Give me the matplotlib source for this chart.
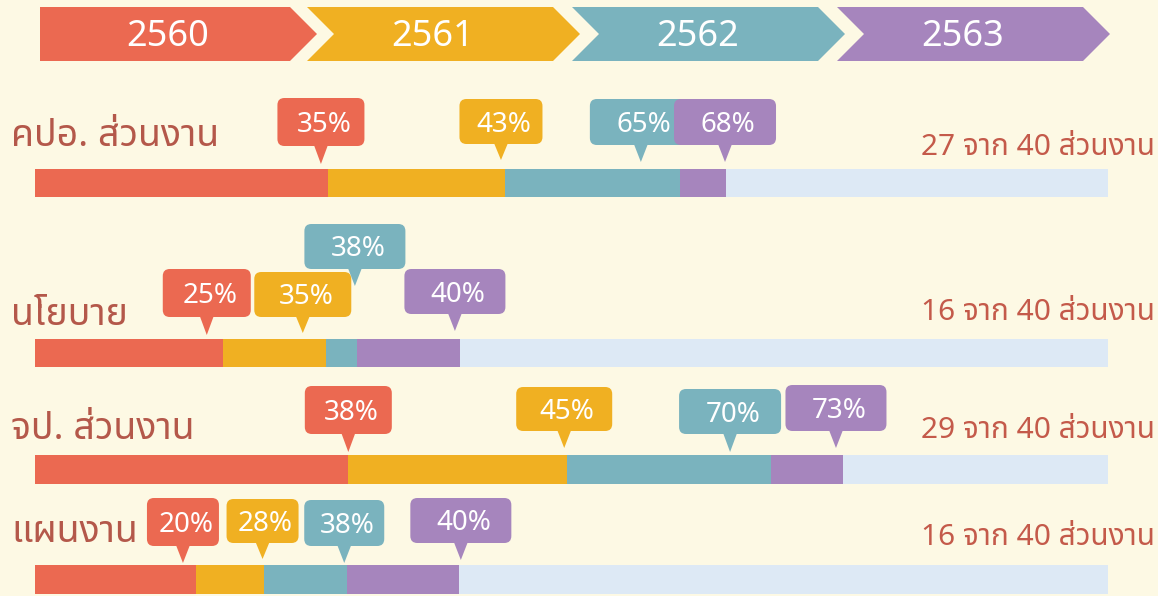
import matplotlib
matplotlib.use("Agg")
import matplotlib.pyplot as plt
from matplotlib.patches import Polygon, FancyBboxPatch

# === Data ===
years = ["2560", "2561", "2562", "2563"]
units = ["คปอ. ส่วนงาน", "นโยบาย", "จป. ส่วนงาน", "แผนงาน"]
pct_labels = [[35, 43, 65, 68],
              [25, 35, 38, 40],
              [38, 45, 70, 73],
              [20, 28, 38, 40]]
# segment ends as drawn (percent of bar length)
bar_ends = [[27.3, 43.8, 60.1, 64.4],
            [17.5, 27.1, 30.0, 39.6],
            [29.2, 49.6, 68.6, 75.3],
            [15.0, 21.3, 29.1, 39.5]]
done = [27, 16, 29, 16]
total = 40

colors = ["#EB6951", "#F0B022", "#7AB3BE", "#A685BD"]
track = "#DDE9F5"
bg = "#FDF9E4"
label_col = "#B4584A"
count_col = "#C45A4A"
plt.rcParams["font.family"] = ["Noto Sans Thai", "Sarabun", "Athiti", "DejaVu Sans"]

# === Layout (pixels) ===
W, H = 1158, 596
bar_x0, bar_x1 = 35, 1108
bar_cy = [183, 353, 469.5, 579.5]
bar_h = 28.5
label_base = [146, 325, 439, 542]
count_base = [155, 320, 438, 545]
# callout: (tip dx from segment end, box width, box top, box bottom, tip y)
callouts = [
    [(-7, 87, 98, 146, 164), (-4, 83, 99, 144, 160), (-39, 102, 99, 145, 162), (-1, 102, 99, 145, 162)],
    [(-16, 88, 269, 317, 335), (-23, 97, 272, 317, 333), (-2, 101, 224, 269, 286), (-5, 101, 269, 314, 331)],
    [(0, 87, 386, 434, 452), (-3, 96, 387, 431, 448), (-41, 102, 389, 434, 452), (-7, 101, 385, 431, 448)],
    [(-13, 72, 498, 546, 563), (-1, 72, 499, 543, 559), (-3, 80, 500, 546, 563), (2, 101, 498, 543, 560)],
]
# callouts drawn on top in this order
draw_order = [[0, 1, 2, 3], [0, 1, 3, 2], [0, 1, 2, 3], [0, 1, 2, 3]]
arrow_left = [40, 307, 572, 837]
arrow_tip = [317, 580, 845, 1110]
arrow_top, arrow_bot = 7, 61

fig = plt.figure(figsize=(W / 100, H / 100), dpi=100, facecolor=bg)
ax = fig.add_axes([0, 0, 1, 1])
ax.set_xlim(0, W)
ax.set_ylim(H, 0)
ax.axis("off")

axb = fig.add_axes([bar_x0 / W, 0, (bar_x1 - bar_x0) / W, 1])
axb.set_xlim(0, 100)
axb.set_ylim(H, 0)
axb.axis("off")
axb.patch.set_alpha(0)

# === Year chevrons ===
mid = (arrow_top + arrow_bot) / 2
depth = mid - arrow_top
for i, yr in enumerate(years):
    L, T = arrow_left[i], arrow_tip[i]
    pts = [(L, arrow_top), (T - depth, arrow_top), (T, mid), (T - depth, arrow_bot), (L, arrow_bot)]
    if i > 0:
        pts.append((L + depth, mid))
    ax.add_patch(Polygon(pts, closed=True, facecolor=colors[i], edgecolor="none"))
    ax.text((L + T - depth) / 2 + 3, mid + 12, yr, color="white", fontsize=26,
            ha="center", va="baseline")

# === Bars ===
for r in range(len(units)):
    axb.barh(bar_cy[r], 100, height=bar_h, color=track, linewidth=0)
    left = 0
    for k, end in enumerate(bar_ends[r]):
        axb.barh(bar_cy[r], end - left, left=left, height=bar_h, color=colors[k], linewidth=0)
        left = end

    ax.text(11, label_base[r], units[r], color=label_col, fontsize=27, ha="left", va="baseline")
    ax.text(1155, count_base[r], f"{done[r]} จาก {total} ส่วนงาน", color=count_col,
            fontsize=21.5, ha="right", va="baseline")

    # === Callouts ===
    for k in draw_order[r]:
        dx, bw, top, bot, tip_y = callouts[r][k]
        end_px = axb.transData.transform((bar_ends[r][k], 0))[0]
        tip_x = end_px + dx
        z = 5 + draw_order[r].index(k)
        ax.add_patch(FancyBboxPatch((tip_x - bw / 2, top), bw, bot - top,
                                    boxstyle="round,pad=0,rounding_size=7",
                                    facecolor=colors[k], edgecolor="none", zorder=z))
        ax.add_patch(Polygon([(tip_x - 7, bot - 1), (tip_x + 7, bot - 1), (tip_x, tip_y)],
                             closed=True, facecolor=colors[k], edgecolor="none", zorder=z))
        ax.text(tip_x + 3, (top + bot) / 2 + 10, f"{pct_labels[r][k]}%", color="white",
                fontsize=20, ha="center", va="baseline", zorder=z)

fig.savefig("out.png", dpi=100, facecolor=bg)
